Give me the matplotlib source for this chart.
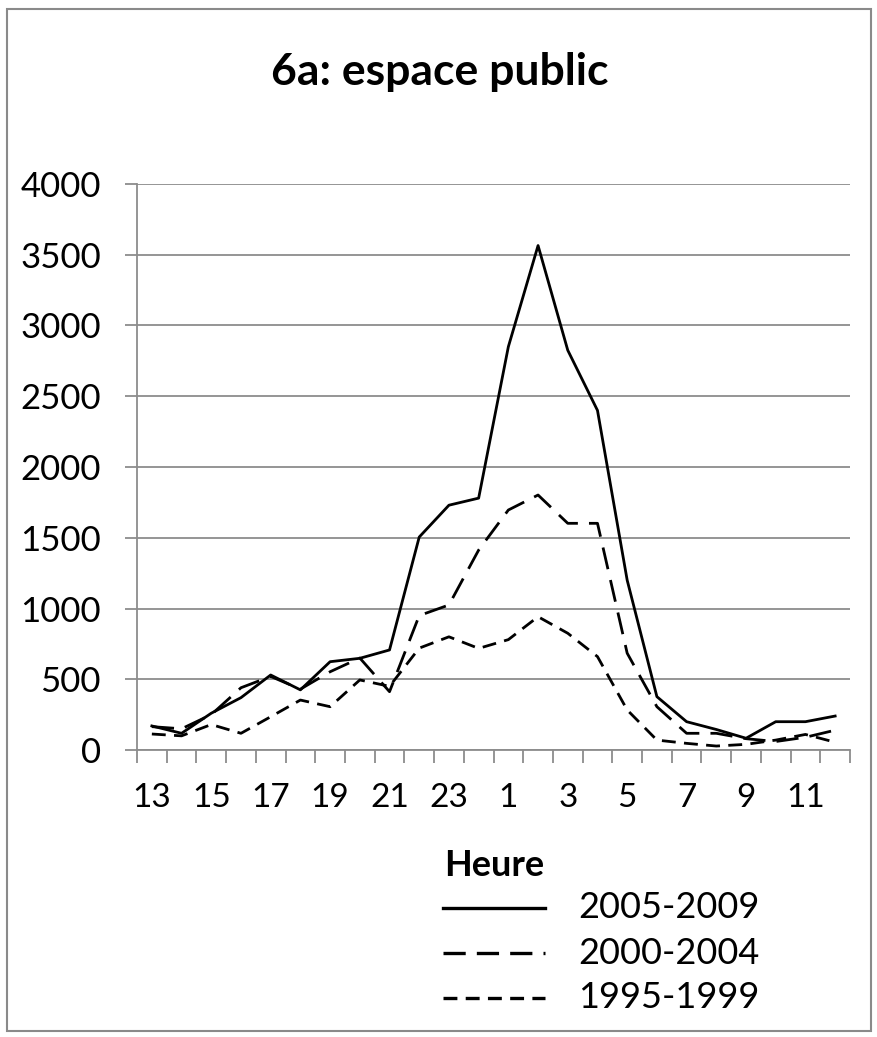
import matplotlib
matplotlib.use("Agg")
import matplotlib.pyplot as plt
from matplotlib.patches import Rectangle
from matplotlib.lines import Line2D

hours = [13, 14, 15, 16, 17, 18, 19, 20, 21, 22, 23, 0, 1, 2, 3, 4, 5, 6, 7, 8, 9, 10, 11, 12]
s2005_2009 = [170, 118, 260, 370, 530, 425, 624, 648, 707, 1505, 1730, 1780, 2850, 3565, 2825, 2400,
              1200, 377, 200, 145, 83, 200, 200, 240]
s2000_2004 = [165, 150, 250, 440, 520, 430, 553, 650, 412, 950, 1025, 1413, 1696, 1802, 1602, 1602,
              684, 306, 118, 118, 80, 60, 90, 140]
s1995_1999 = [113, 100, 180, 118, 235, 353, 306, 495, 450, 720, 800, 718, 780, 942, 825, 660,
              283, 70, 47, 28, 40, 70, 110, 55]
series_labels = ["2005-2009", "2000-2004", "1995-1999"]
title = "6a: espace public"
xlabel = "Heure"
yticks = [0, 500, 1000, 1500, 2000, 2500, 3000, 3500, 4000]

plt.rcParams['font.family'] = ['Lato', 'DejaVu Sans']
plt.rcParams['lines.scale_dashes'] = False

W, H = 877, 1037
fig = plt.figure(figsize=(W / 100, H / 100), dpi=100)

def fx(px):
    return px / W

def fy(py):
    return 1 - py / H

ax = fig.add_axes([fx(137), fy(750), fx(850) - fx(137), fy(184) - fy(750)])

grey = "#8c8c8c"
pos = list(range(len(hours)))
styles = [dict(linestyle='-'), dict(dashes=(16, 8)), dict(dashes=(10, 6))]
for vals, lab, st in zip([s2005_2009, s2000_2004, s1995_1999], series_labels, styles):
    ax.plot(pos, vals, color='black', lw=2.0, label=lab, **st)

ax.set_xlim(-0.5, len(hours) - 0.5)
ax.set_ylim(0, 4000)
ax.set_yticks(yticks)
ax.set_yticklabels([str(v) for v in yticks])
ax.yaxis.grid(True, color=grey, lw=1.3)
ax.set_axisbelow(True)

ax.set_xticks(pos[::2])
ax.set_xticklabels([str(h) for h in hours[::2]])
ax.set_xticks([p - 0.5 for p in pos] + [len(hours) - 0.5], minor=True)
ax.tick_params(axis='x', which='major', length=0, pad=24, labelsize=24)
ax.tick_params(axis='x', which='minor', length=9, width=1.3, color=grey, direction='out')
ax.tick_params(axis='y', which='major', length=9, width=1.3, color=grey, pad=17, labelsize=25)

for side in ['top', 'right']:
    ax.spines[side].set_visible(False)
for side in ['left', 'bottom']:
    ax.spines[side].set_color(grey)
    ax.spines[side].set_linewidth(1.3)

fig.text(fx(440), fy(72), title, ha='center', va='center', fontsize=32, fontweight='bold')
fig.text(fx(494), fy(866), xlabel, ha='center', va='center', fontsize=26, fontweight='bold')

# legend drawn as figure artists
leg_y = [908, 953, 998]
for st, lab, yy in zip(styles, series_labels, leg_y):
    fig.add_artist(Line2D([fx(443), fx(545)], [fy(yy), fy(yy)], color='black', lw=2.4,
                          transform=fig.transFigure, **st))
    fig.text(fx(578), fy(yy), lab, ha='left', va='center', fontsize=26)

fig.patches.append(Rectangle((fx(7), fy(1031)), fx(871) - fx(7), fy(9) - fy(1031),
                             transform=fig.transFigure, fill=False, edgecolor='#8a8a8a', lw=1.5))

fig.savefig("out.png", dpi=100, facecolor='white')
